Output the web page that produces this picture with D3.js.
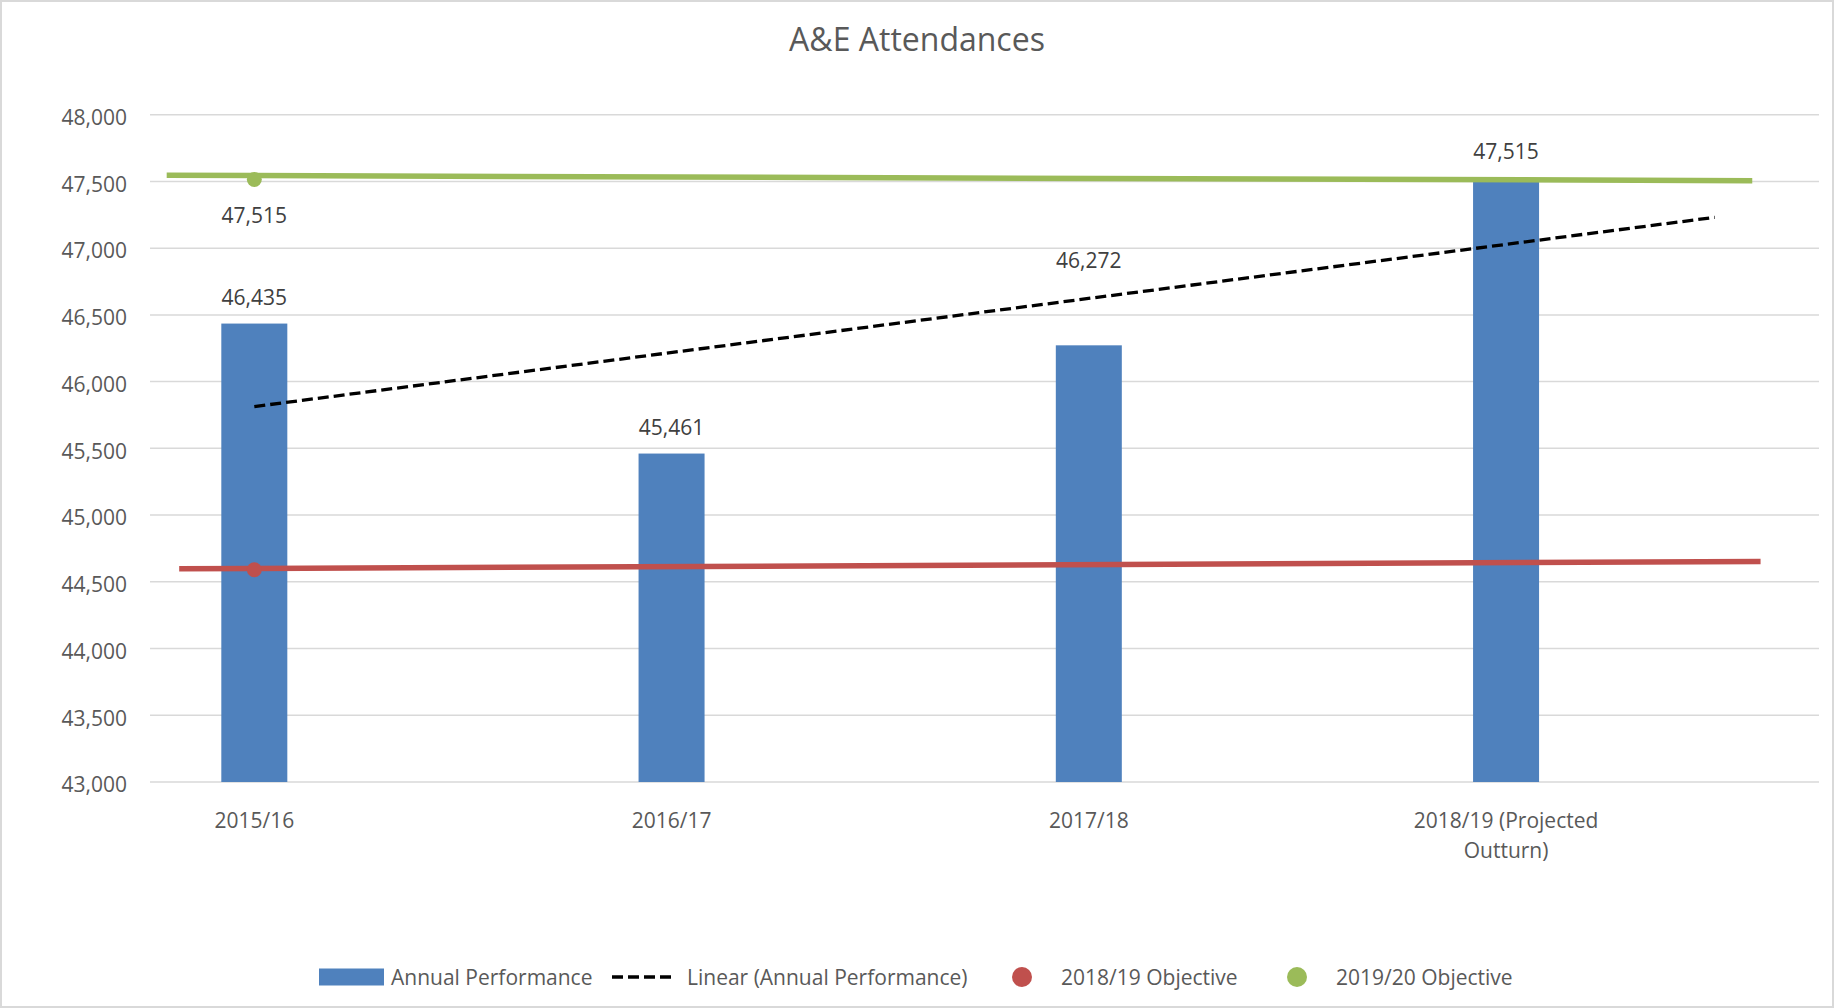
<!DOCTYPE html>
<html>
<head>
<meta charset="utf-8">
<script src="https://cdn.jsdelivr.net/npm/d3@7"></script>
<style>
  body { margin: 0; background: #fff; }
  text { font-family: "Open Sans", "Noto Sans", sans-serif; }
</style>
</head>
<body>
<div id="chart"></div>
<script>
// Data
var categories = ["2015/16", "2016/17", "2017/18", "2018/19 (Projected Outturn)"];
var categoryLines = [["2015/16"], ["2016/17"], ["2017/18"], ["2018/19 (Projected", "Outturn)"]];
var annualPerformance = [46435, 45461, 46272, 47515];

// objective markers sit on the first category
var objective1819 = [44590];
var objective1920 = [47515];

// hand drawn objective lines, [category position, value]
var objective1819Line = [[-0.18, 44597], [3.61, 44652]];
var objective1920Line = [[-0.21, 47546], [3.59, 47506]];

var yTicks = [43000, 43500, 44000, 44500, 45000, 45500, 46000, 46500, 47000, 47500, 48000];

var width = 1834;
var height = 1008;
var plot = { left: 150, right: 1819, top: 114.7, bottom: 782 };

var blue = "#4f81bd", red = "#c0504d", green = "#9bbb59";
var fmt = d3.format(",");

// category index -> pixels (Excel leaves a quarter band on the left)
var xScale = d3.scaleLinear()
  .domain([-0.25, categories.length - 0.25])
  .range([plot.left, plot.right]);

var yScale = d3.scaleLinear()
  .domain([43000, 48000])
  .range([plot.bottom, plot.top]);

var svg = d3.select("#chart")
  .append("svg")
  .attr("width", width)
  .attr("height", height);

// frame
svg.append("rect")
  .attr("x", 1).attr("y", 1)
  .attr("width", width - 2).attr("height", height - 2)
  .attr("fill", "#fff")
  .attr("stroke", "#d9d9d9")
  .attr("stroke-width", 2);

// title
svg.append("text")
  .attr("x", 917).attr("y", 40)
  .attr("dy", "0.35em")
  .attr("text-anchor", "middle")
  .attr("fill", "#595959")
  .style("font-size", "32px")
  .text("A&E Attendances");

// gridlines
svg.append("g")
  .selectAll("line")
  .data(yTicks)
  .enter()
  .append("line")
  .attr("x1", plot.left).attr("x2", plot.right)
  .attr("y1", d => yScale(d)).attr("y2", d => yScale(d))
  .attr("stroke", "#d9d9d9")
  .attr("stroke-width", 1.5);

// y axis labels
const yAxis = d3.axisLeft(yScale)
  .tickValues(yTicks)
  .tickFormat(fmt)
  .tickSize(0)
  .tickPadding(23);

svg.append("g")
  .attr("transform", `translate(${plot.left},3)`)
  .call(yAxis)
  .call(g => g.select(".domain").remove())
  .selectAll("text")
  .attr("fill", "#595959")
  .style("font-size", "21px")
  .style("font-family", "'Open Sans', sans-serif");

// x labels
const xLabels = svg.append("g")
  .selectAll("text")
  .data(categoryLines)
  .enter()
  .append("text")
  .attr("text-anchor", "middle")
  .attr("fill", "#595959")
  .style("font-size", "21px");

xLabels.selectAll("tspan")
  .data((d, i) => d.map(line => ({ line: line, i: i })))
  .enter()
  .append("tspan")
  .attr("x", d => xScale(d.i))
  .attr("y", (d, j) => 821 + j * 30)
  .attr("dy", "0.35em")
  .text(d => d.line);

// bars
var barWidth = 66;
svg.append("g")
  .selectAll("rect")
  .data(annualPerformance)
  .enter()
  .append("rect")
  .attr("x", (d, i) => xScale(i) - barWidth / 2)
  .attr("y", d => yScale(d))
  .attr("width", barWidth)
  .attr("height", d => yScale(43000) - yScale(d))
  .attr("fill", blue);

// bar labels (third one was dragged upward in the original)
var labelNudge = [26, 26, 85, 28];
svg.append("g")
  .selectAll("text")
  .data(annualPerformance)
  .enter()
  .append("text")
  .attr("x", (d, i) => xScale(i))
  .attr("y", (d, i) => yScale(d) - labelNudge[i])
  .attr("dy", "0.35em")
  .attr("text-anchor", "middle")
  .attr("fill", "#404040")
  .style("font-size", "21px")
  .text(d => fmt(d));

// linear trendline, forecast forward half a period
const xs = annualPerformance.map((d, i) => i);
const mx = d3.mean(xs), my = d3.mean(annualPerformance);
const slope = d3.sum(xs, (x, i) => (x - mx) * (annualPerformance[i] - my)) /
  d3.sum(xs, x => (x - mx) * (x - mx));
const intercept = my - slope * mx;
const trend = [0, categories.length - 0.5].map(x => [x, intercept + slope * x]);

const line = d3.line()
  .x(d => xScale(d[0]))
  .y(d => yScale(d[1]));

svg.append("path")
  .datum(trend)
  .attr("d", line)
  .attr("fill", "none")
  .attr("stroke", "#000")
  .attr("stroke-width", 3.3)
  .attr("stroke-dasharray", "11,5");

// objective lines
svg.append("path")
  .datum(objective1819Line)
  .attr("d", line)
  .attr("stroke", red)
  .attr("stroke-width", 5.5);

svg.append("path")
  .datum(objective1920Line)
  .attr("d", line)
  .attr("stroke", green)
  .attr("stroke-width", 5.5);

// objective markers
svg.append("g")
  .selectAll("circle")
  .data(objective1819)
  .enter()
  .append("circle")
  .attr("cx", (d, i) => xScale(i))
  .attr("cy", d => yScale(d))
  .attr("r", 7.5)
  .attr("fill", red);

svg.append("g")
  .selectAll("circle")
  .data(objective1920)
  .enter()
  .append("circle")
  .attr("cx", (d, i) => xScale(i))
  .attr("cy", d => yScale(d))
  .attr("r", 7.5)
  .attr("fill", green);

svg.append("g")
  .selectAll("text")
  .data(objective1920)
  .enter()
  .append("text")
  .attr("x", (d, i) => xScale(i))
  .attr("y", d => yScale(d) + 36)
  .attr("dy", "0.35em")
  .attr("text-anchor", "middle")
  .attr("fill", "#404040")
  .style("font-size", "21px")
  .text(d => fmt(d));

// legend
var legendY = 977;
const legend = svg.append("g");

legend.append("rect")
  .attr("x", 319).attr("y", legendY - 8.5)
  .attr("width", 65).attr("height", 17)
  .attr("fill", blue);

legend.append("line")
  .attr("x1", 612).attr("x2", 672)
  .attr("y1", legendY).attr("y2", legendY)
  .attr("stroke", "#000")
  .attr("stroke-width", 3.3)
  .attr("stroke-dasharray", "11,5");

legend.append("circle")
  .attr("cx", 1022).attr("cy", legendY).attr("r", 10)
  .attr("fill", red);

legend.append("circle")
  .attr("cx", 1297).attr("cy", legendY).attr("r", 10)
  .attr("fill", green);

var legendItems = [
  { x: 391, label: "Annual Performance" },
  { x: 687, label: "Linear (Annual Performance)" },
  { x: 1061, label: "2018/19 Objective" },
  { x: 1336, label: "2019/20 Objective" }
];

legend.selectAll("text")
  .data(legendItems)
  .enter()
  .append("text")
  .attr("x", d => d.x)
  .attr("y", legendY + 1)
  .attr("dy", "0.35em")
  .attr("fill", "#595959")
  .style("font-size", "21px")
  .text(d => d.label);
</script>
</body>
</html>
